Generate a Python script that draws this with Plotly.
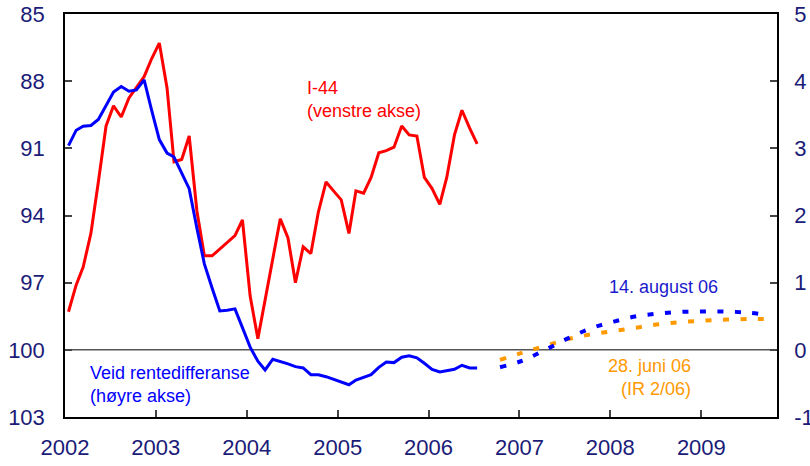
import pandas as pd
import plotly.graph_objects as go

# --- Data ---
# Monthly observations, Jan 2002 - Jul 2006
months = pd.date_range("2002-01-01", periods=55, freq="MS") + pd.Timedelta(days=14)

# I-44 (left axis, reversed)
i44 = [98.3, 97.1, 96.3, 94.8, 92.5, 90.0, 89.1, 89.6, 88.75, 88.3, 87.8, 87.0,
       86.3, 88.3, 91.6, 91.5, 90.45, 93.8, 95.8, 95.8, 95.5, 95.2, 94.9, 94.2,
       97.6, 99.5, 97.8, 96.0, 94.15, 95.0, 97.0, 95.4, 95.7, 93.85, 92.5, 92.9,
       93.3, 94.8, 92.9, 93.0, 92.3, 91.2, 91.1, 90.95, 90.0, 90.4, 90.45, 92.3,
       92.8, 93.5, 92.3, 90.4, 89.3, 90.1, 90.8]

# Veid rentedifferanse (right axis)
rentediff = [3.04, 3.27, 3.33, 3.34, 3.43, 3.63, 3.84, 3.92, 3.85, 3.87, 4.02, 3.57,
             3.13, 2.93, 2.87, 2.63, 2.40, 1.81, 1.28, 0.92, 0.58, 0.59, 0.61, 0.33,
             0.04, -0.17, -0.30, -0.14, -0.17, -0.21, -0.25, -0.27, -0.37, -0.37, -0.40, -0.44,
             -0.48, -0.52, -0.45, -0.41, -0.37, -0.26, -0.18, -0.19, -0.11, -0.09, -0.12, -0.20,
             -0.29, -0.33, -0.31, -0.29, -0.23, -0.27, -0.27]

# Forward-looking interest differentials (right axis)
fwd_dates = ["2006-10-15", "2007-01-15", "2007-04-15", "2007-07-15", "2007-10-15",
             "2008-01-15", "2008-04-15", "2008-07-15", "2008-10-15", "2009-01-15",
             "2009-04-15", "2009-07-15", "2009-09-20"]
fwd_aug06 = [-0.26, -0.16, 0.00, 0.17, 0.32, 0.42, 0.50, 0.54, 0.565, 0.57, 0.57, 0.55, 0.52]
fwd_jun06 = [-0.15, -0.04, 0.06, 0.16, 0.23, 0.28, 0.33, 0.38, 0.415, 0.435, 0.45, 0.46, 0.46]

left_ticks = [85, 88, 91, 94, 97, 100, 103]
right_ticks = [-1, 0, 1, 2, 3, 4, 5]
right_labels = ["-1", "0", "1", "2", "3", "4", "5"]

NAVY = "#1b1b78"
FONT = "Liberation Sans, Arial, sans-serif"

fig = go.Figure()

fig.add_trace(go.Scatter(x=months, y=i44, mode="lines", name="I-44",
                         line=dict(color="#ff0000", width=3), yaxis="y"))
fig.add_trace(go.Scatter(x=months, y=rentediff, mode="lines", name="Veid rentedifferanse",
                         line=dict(color="#0000ff", width=3), yaxis="y2"))
fig.add_trace(go.Scatter(x=fwd_dates, y=fwd_jun06, mode="lines", name="28. juni 06",
                         line=dict(color="#ff9900", width=4, dash="6px,11.5px", shape="spline"),
                         yaxis="y2"))
fig.add_trace(go.Scatter(x=fwd_dates, y=fwd_aug06, mode="lines", name="14. august 06",
                         line=dict(color="#0000ff", width=4, dash="6px,11.5px", shape="spline"),
                         yaxis="y2"))

# zero line on the right axis (= 100 on the left)
fig.add_shape(type="line", xref="paper", x0=0, x1=1, yref="y2", y0=0, y1=0,
              line=dict(color="#555555", width=1.5), layer="below")

ann_font = dict(family=FONT, size=18)
fig.add_annotation(xref="paper", yref="paper", x=0.337, y=0.789, xanchor="left", yanchor="middle",
                   text="I-44<br>(venstre akse)", showarrow=False, align="left",
                   font=dict(ann_font, color="#ff0000"))
fig.add_annotation(xref="paper", yref="paper", x=0.033, y=0.081, xanchor="left", yanchor="middle",
                   text="Veid rentedifferanse<br>(høyre akse)", showarrow=False, align="left",
                   font=dict(ann_font, color="#0000ff"))
fig.add_annotation(xref="paper", yref="paper", x=0.841, y=0.3226, xanchor="center", yanchor="middle",
                   text="14. august 06", showarrow=False,
                   font=dict(ann_font, color="#1a1acc"))
fig.add_annotation(xref="paper", yref="paper", x=0.882, y=0.097, xanchor="right", yanchor="middle",
                   text="28. juni 06<br>(IR 2/06)", showarrow=False, align="right",
                   font=dict(ann_font, color="#ff9900"))

fig.update_layout(
    width=810, height=466,
    margin=dict(l=65, r=33, t=14, b=49, autoexpand=False),
    paper_bgcolor="white", plot_bgcolor="white",
    showlegend=False,
    font=dict(family=FONT, size=22, color=NAVY),
    xaxis=dict(
        type="date", range=["2002-01-01", "2009-11-01"],
        tick0="2002-01-01", dtick="M12", tickformat="%Y",
        ticks="inside", ticklen=7, tickcolor="#444444", tickwidth=1.5,
        showline=True, linecolor="black", linewidth=1.5, mirror=True,
        showgrid=False, zeroline=False, ticklabelstandoff=10, automargin=False,
    ),
    yaxis=dict(
        range=[103, 85], tickvals=left_ticks,
        ticks="inside", ticklen=7, tickcolor="#444444", tickwidth=1.5,
        showline=True, linecolor="black", linewidth=1.5,
        showgrid=False, zeroline=False, ticklabelstandoff=14, automargin=False,
    ),
    yaxis2=dict(
        range=[-1, 5], tickvals=right_ticks, ticktext=right_labels,
        overlaying="y", side="right",
        ticks="inside", ticklen=7, tickcolor="#444444", tickwidth=1.5,
        showline=True, linecolor="black", linewidth=1.5,
        showgrid=False, zeroline=False, ticklabelstandoff=11, automargin=False,
    ),
)

# the page's default body margin would shift the chart by 8px
fig.write_html("out.html", config={"displayModeBar": False},
               post_script="document.body.style.margin='0';")
